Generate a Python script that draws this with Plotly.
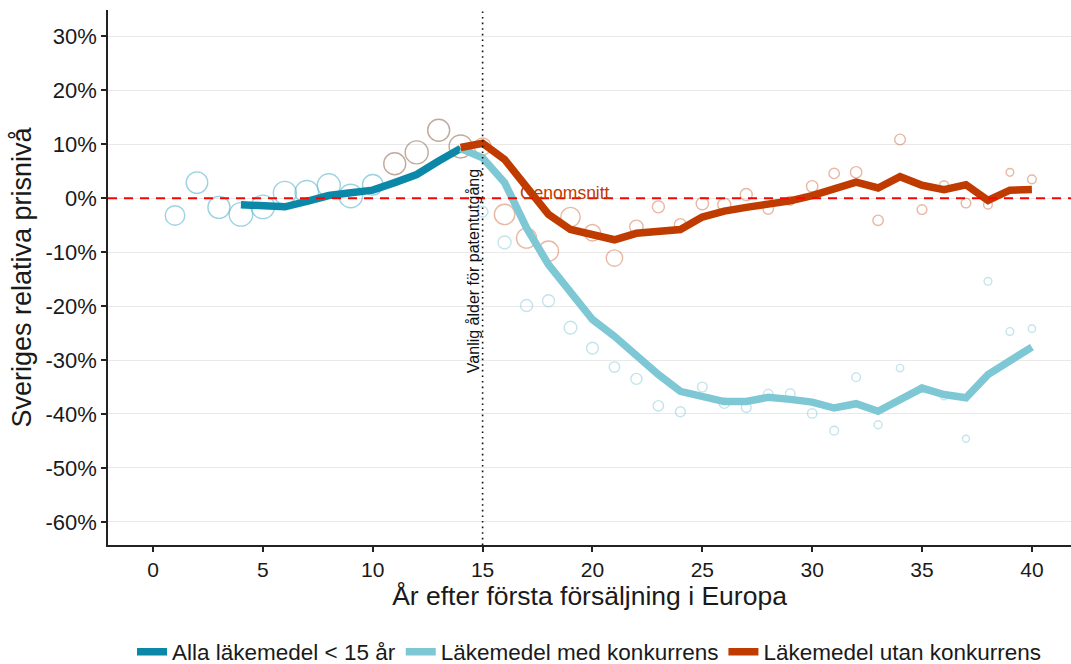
import plotly.graph_objects as go

# Years since first sale in Europe
years_alla_pts = list(range(1, 15))
years_alla_line = list(range(4, 15))
years_after = list(range(15, 41))
years_lines = list(range(14, 41))

# Smoothed relative price level (%), all medicines younger than 15 years
alla_line = [-1.2, -1.4, -1.6, -0.6, 0.5, 1.0, 1.5, 2.9, 4.4, 6.9, 9.2]
# Yearly observations before patent expiry
alla_pts = [-3.2, 2.9, -1.7, -3.0, -1.6, 1.0, 1.1, 2.4, 0.4, 2.5, 6.4, 8.5, 12.6, 9.6]
alla_size = [19.5, 21.5, 22, 23.5, 23.5, 23, 23.5, 23, 23.5, 20.5, 22, 23, 22, 23]

# Medicines with competition
med_line = [9.2, 7.5, 2.9, -5.5, -12.3, -17.6, -22.5, -25.6, -29.3, -32.7, -35.8,
            -36.7, -37.7, -37.7, -36.9, -37.3, -37.8, -38.9, -38.1, -39.5, -37.3,
            -35.2, -36.4, -37.0, -32.7, -30.2, -27.6]
med_pts = [-2.5, -8.2, -19.9, -19.0, -24.0, -27.8, -31.3, -33.5, -38.5, -39.6,
           -35.0, -38.0, -38.8, -36.3, -36.2, -39.9, -43.1, -33.2, -42.0, -31.5,
           -35.3, -36.7, -44.6, -15.4, -24.7, -24.2]
med_size = [10.5, 13, 12, 12, 12.7, 11.7, 10.4, 11, 10.4, 10, 9.7, 10.4, 9.7,
            9.4, 9.4, 9.4, 8.7, 8.7, 8, 7.4, 7.4, 7.4, 7, 7.7, 7.7, 7.4]

# Medicines without competition
utan_line = [9.4, 10.2, 7.2, 1.9, -3.0, -5.8, -6.7, -7.7, -6.5, -6.1, -5.8, -3.5,
             -2.4, -1.7, -1.2, -0.5, 0.5, 1.6, 3.0, 1.9, 4.0, 2.4, 1.6, 2.5,
             -0.4, 1.5, 1.6]
utan_pts = [9.6, -3.0, -7.4, -9.8, -3.5, -6.4, -11.1, -5.3, -1.6, -4.9, -1.0,
            -1.2, 0.7, -2.0, -0.5, 2.2, 4.6, 4.8, -4.1, 10.9, -2.1, 2.4, -0.9,
            -1.2, 4.8, 3.5]
utan_size = [17, 20.4, 20, 20, 19.4, 16.4, 16.4, 13.4, 12, 12, 12.4, 13, 12,
             10.4, 8.7, 11.4, 10.4, 11.4, 10.4, 10.7, 9.7, 9, 9.7, 8.7, 7.7, 8.7]

y_ticks = [-60, -50, -40, -30, -20, -10, 0, 10, 20, 30]
x_ticks = [0, 5, 10, 15, 20, 25, 30, 35, 40]

C_ALLA = "#0b88a8"
C_MED = "#7ec8d6"
C_UTAN = "#bf3b00"
FONT = "Liberation Sans, Arial, sans-serif"
TXT = "#1a1a1a"

fig = go.Figure()


def circles(x, y, size, color):
    fig.add_trace(go.Scatter(
        x=x, y=y, mode="markers", showlegend=False, hoverinfo="skip",
        marker=dict(symbol="circle", size=size, color="rgba(0,0,0,0)",
                    line=dict(color=color, width=1.4)),
    ))


# Observations (open circles)
circles(years_alla_pts[:10], alla_pts[:10], alla_size[:10], "rgba(100,185,208,0.9)")
circles(years_alla_pts[10:], alla_pts[10:], alla_size[10:], "rgba(135,95,70,0.75)")
circles(years_after, med_pts, med_size, "rgba(120,195,212,0.62)")
circles(years_after, utan_pts, utan_size, "rgba(200,80,30,0.58)")

# Smoothed lines
fig.add_trace(go.Scatter(x=years_alla_line, y=alla_line, mode="lines",
                         name="Alla läkemedel < 15 år",
                         line=dict(color=C_ALLA, width=7.5)))
fig.add_trace(go.Scatter(x=years_lines, y=med_line, mode="lines",
                         name="Läkemedel med konkurrens",
                         line=dict(color=C_MED, width=7.5)))
fig.add_trace(go.Scatter(x=years_lines, y=utan_line, mode="lines",
                         name="Läkemedel utan konkurrens",
                         line=dict(color=C_UTAN, width=7.5)))

# Average reference line and typical patent expiry
fig.add_shape(type="line", xref="paper", x0=0, x1=1, yref="y", y0=0, y1=0,
              line=dict(color="#ff0000", width=2, dash="9px,7px"), layer="above")
fig.add_shape(type="line", xref="x", x0=15, x1=15, yref="paper", y0=0, y1=1,
              line=dict(color="#111111", width=1.6, dash="1.6px,4px"), layer="above")

fig.add_annotation(x=18.75, y=1.0, text="Genomsnitt", showarrow=False,
                   font=dict(family=FONT, size=17.5, color=C_UTAN))
fig.add_annotation(x=15, y=-13.5, xanchor="right", text="Vanlig ålder för patentutgång",
                   textangle=-90, showarrow=False, xshift=1,
                   font=dict(family=FONT, size=16, color="#111111"))

fig.update_layout(
    width=1071, height=664,
    margin=dict(l=108, r=0, t=10, b=119, autoexpand=False),
    paper_bgcolor="white", plot_bgcolor="white",
    font=dict(family=FONT, color=TXT),
    showlegend=True,
    legend=dict(orientation="h", x=0.5, xanchor="center",
                yref="container", y=12 / 664, yanchor="middle",
                font=dict(family=FONT, size=22.5, color=TXT),
                itemwidth=30, tracegroupgap=0),
    xaxis=dict(range=[-2.05, 41.78], tickvals=x_ticks,
               ticktext=[str(v) for v in x_ticks],
               showgrid=False, zeroline=False,
               showline=True, linecolor="#222222", linewidth=1.5,
               ticks="outside", ticklen=5, tickcolor="#222222", tickwidth=1.5,
               tickfont=dict(family=FONT, size=21, color=TXT),
               title=dict(text="År efter första försäljning i Europa",
                          font=dict(family=FONT, size=26.5, color=TXT),
                          standoff=6)),
    yaxis=dict(range=[-64.3, 34.9], tickvals=y_ticks,
               ticktext=[f"{v}%" for v in y_ticks],
               showgrid=True, gridcolor="#e9e9e9", gridwidth=1.4, zeroline=False,
               showline=True, linecolor="#222222", linewidth=1.5,
               ticks="outside", ticklen=5, tickcolor="#222222", tickwidth=1.5,
               tickfont=dict(family=FONT, size=22, color=TXT),
               title=dict(text="Sveriges relativa prisnivå",
                          font=dict(family=FONT, size=27, color=TXT),
                          standoff=6)),
)

fig.write_html("out.html")
